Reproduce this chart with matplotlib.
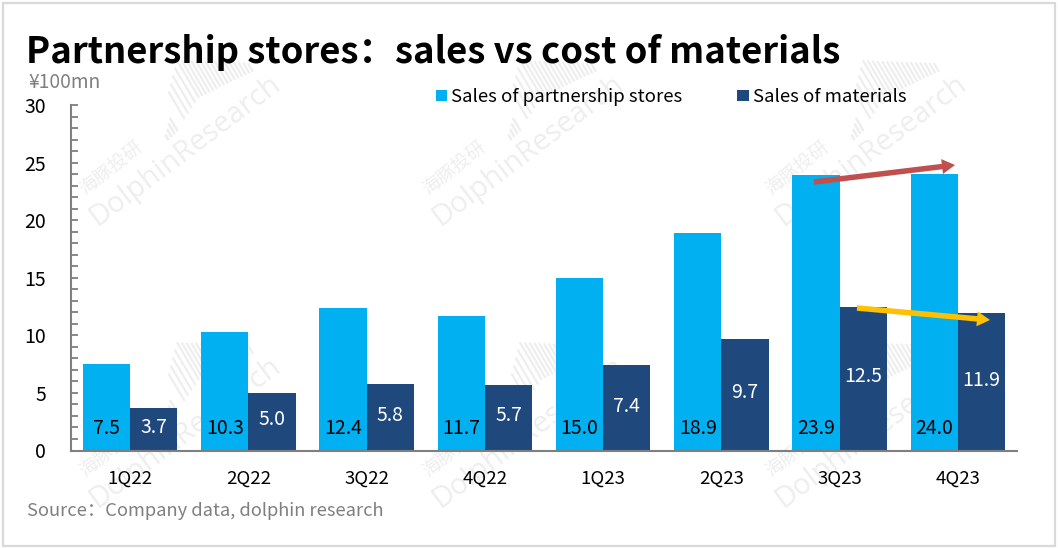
import matplotlib
matplotlib.use("Agg")
import matplotlib.pyplot as plt
import numpy as np
from matplotlib.patches import FancyArrow, Rectangle
from matplotlib.lines import Line2D
from matplotlib.ticker import MultipleLocator

W, H = 1058, 548
quarters = ["1Q22", "2Q22", "3Q22", "4Q22", "1Q23", "2Q23", "3Q23", "4Q23"]
store_sales = [7.5, 10.3, 12.4, 11.7, 15.0, 18.9, 23.9, 24.0]
material_sales = [3.7, 5.0, 5.8, 5.7, 7.4, 9.7, 12.5, 11.9]
yticks = [0, 5, 10, 15, 20, 25, 30]

FONT = ["Noto Sans CJK SC", "DejaVu Sans"]
plt.rcParams["font.family"] = FONT
LIGHT, DARK, GREY = "#00B0F0", "#1F497D", "#7F7F7F"
WM = "#EEEEEE"

fig = plt.figure(figsize=(W / 100, H / 100), dpi=100, facecolor="white")
def fx(x): return x / W
def fy(y): return 1 - y / H

# outer frame
fig.add_artist(Rectangle((fx(2.5), fy(545.5)), 1052.5 / W, 543 / H, transform=fig.transFigure,
                         fill=False, edgecolor="#D9D9D9", linewidth=1.6))

# watermark tiles
def barcode(ox, oy):
    for bx, base, ln in zip([168, 171, 174, 177], [139, 136, 133, 130], [4, 7, 10, 13]):
        fig.add_artist(Line2D([fx(bx + ox), fx(bx + ox - ln * 0.5)],
                              [fy(base + oy), fy(base + oy - ln * 0.85)],
                              color=WM, linewidth=1.8, transform=fig.transFigure, zorder=0))
    for bx in np.arange(184, 254, 3.6):
        base = np.interp(bx, [184, 198, 238, 254], [118, 97, 77, 70])
        ln = np.interp(bx, [184, 198, 238, 254], [30, 42, 16, 7])
        fig.add_artist(Line2D([fx(bx + ox), fx(bx + ox - ln * 0.5)],
                              [fy(base + oy), fy(base + oy - ln * 0.85)],
                              color=WM, linewidth=1.6, transform=fig.transFigure, zorder=0))

for ox in (0, 343, 686):
    for oy in (0, 282):
        tx, ty = 97 + ox, 226 + oy
        fig.text(fx(tx), fy(ty), "DolphinResearch", rotation=37, rotation_mode="anchor",
                 fontsize=21, color=WM, family="Open Sans", ha="left", va="baseline", zorder=0)
        fig.text(fx(tx - 12), fy(ty - 30), "海豚投研", rotation=38, rotation_mode="anchor",
                 fontsize=13.5, color=WM, ha="left", va="baseline", zorder=0)
        barcode(ox, oy)

ax = fig.add_axes([fx(71), fy(450.5), (1017 - 71) / W, (450.5 - 105) / H], zorder=2)
ax.patch.set_alpha(0)
x = list(range(len(quarters)))
bw = 0.4
b1 = ax.bar([i - bw / 2 for i in x], store_sales, bw, color=LIGHT, label="Sales of partnership stores")
b2 = ax.bar([i + bw / 2 for i in x], material_sales, bw, color=DARK, label="Sales of materials")
ax.set_xlim(-0.5, len(x) - 0.5)
ax.set_ylim(0, 30)
ax.set_xticks(x, quarters)
ax.set_yticks(yticks)
ax.yaxis.set_minor_locator(MultipleLocator(1))
for s in ("top", "right"):
    ax.spines[s].set_visible(False)
for s in ("left", "bottom"):
    ax.spines[s].set_color(GREY)
    ax.spines[s].set_linewidth(1.5)
ax.tick_params(axis="x", length=0, labelsize=13.4, pad=14, labelcolor="black")
ax.tick_params(axis="y", which="major", direction="in", length=5, width=1.3, color=GREY,
               labelsize=14, pad=18, labelcolor="black")
ax.tick_params(axis="y", which="minor", direction="in", length=5, width=1.3, color=GREY)

for r, v in zip(b1, store_sales):
    ax.text(r.get_x() + r.get_width() / 2, 1.95, f"{v:.1f}", ha="center", va="center",
            fontsize=14, color="black")
for r, v in zip(b2, material_sales):
    ax.text(r.get_x() + r.get_width() / 2, v / 2 + 0.15, f"{v:.1f}", ha="center", va="center",
            fontsize=14, color="white", fontweight="medium")

ax.legend(loc="upper left", bbox_to_anchor=(fx(436), fy(88)), bbox_transform=fig.transFigure,
          ncol=2, frameon=False, fontsize=13.4, handlelength=0.6, handleheight=0.6, handletextpad=0.22,
          columnspacing=2.95, borderpad=0, borderaxespad=0)

fig.text(fx(26), fy(63), "Partnership stores：sales vs cost of materials", fontsize=26.2,
         fontweight="bold", color="black", ha="left", va="baseline")
fig.text(fx(28), fy(88), "¥100mn", fontsize=13.8, color=GREY, ha="left", va="baseline")
fig.text(fx(27), fy(516), "Source：Company data, dolphin research", fontsize=13.2, color=GREY,
         ha="left", va="baseline")

# trend arrows
def arrow(x0, y0, x1, y1, c):
    a = FancyArrow(x0, H - y0, x1 - x0, -(y1 - y0), width=5.5, head_width=15, head_length=13,
                   length_includes_head=True, color=c, linewidth=0,
                   transform=None, zorder=6)
    fig.add_artist(a)
arrow(814, 182, 955, 165, "#C0504D")
arrow(857, 308, 990, 320, "#FFC000")

fig.savefig("out.png", dpi=100)
